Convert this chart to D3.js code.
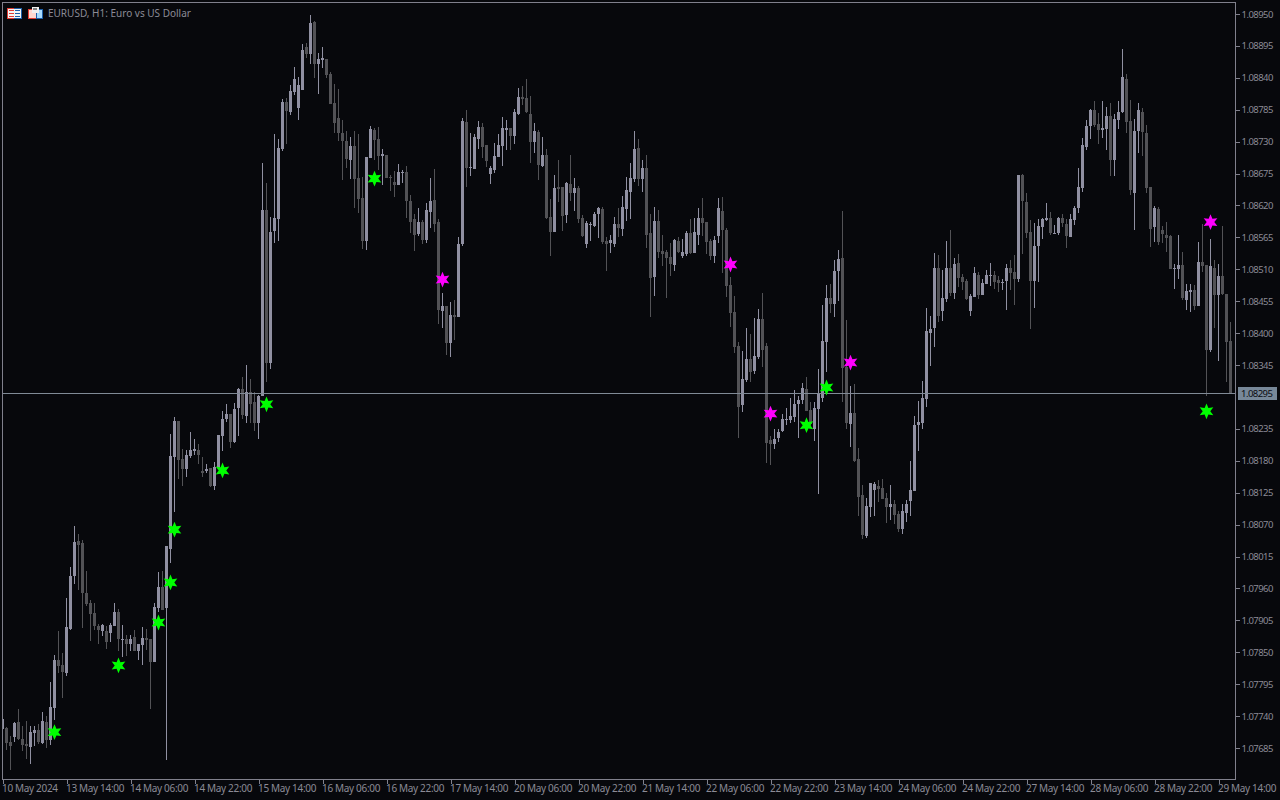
<!DOCTYPE html>
<html><head><meta charset="utf-8">
<style>html,body{margin:0;padding:0;background:#07080c;overflow:hidden}svg{display:block}text{font-family:"Noto Sans",sans-serif;font-size:10px;fill:#8b8b96}</style>
<script src="https://cdn.jsdelivr.net/npm/d3@7"></script></head><body>
<script>
const opens=[1.07718,1.07720,1.07695,1.07704,1.07730,1.07701,1.07692,1.07687,1.07711,1.07716,
1.07694,1.07730,1.07699,1.07754,1.07837,1.07828,1.07814,1.07890,1.07981,1.08042,
1.08038,1.07952,1.07935,1.07918,1.07895,1.07887,1.07887,1.07883,1.07895,1.07919,
1.07871,1.07873,1.07864,1.07876,1.07852,1.07863,1.07875,1.07873,1.07833,1.07926,
1.07962,1.07926,1.08028,1.08187,1.08249,1.08183,1.08166,1.08188,1.08197,1.08199,
1.08162,1.08162,1.08168,1.08137,1.08168,1.08223,1.08252,1.08261,1.08212,1.08271,
1.08304,1.08257,1.08299,1.08281,1.08245,1.08292,1.08612,1.08349,1.08576,1.08597,
1.08717,1.08798,1.08781,1.08816,1.08788,1.08819,1.08893,1.08881,1.08936,1.08864,
1.08871,1.08872,1.08847,1.08797,1.08771,1.08745,1.08731,1.08698,1.08723,1.08667,
1.08633,1.08559,1.08702,1.08750,1.08735,1.08705,1.08707,1.08669,1.08660,1.08655,
1.08676,1.08678,1.08628,1.08597,1.08571,1.08592,1.08561,1.08609,1.08629,1.08592,
1.08438,1.08447,1.08383,1.08431,1.08428,1.08554,1.08764,1.08685,1.08683,1.08735,
1.08755,1.08724,1.08674,1.08681,1.08704,1.08723,1.08750,1.08754,1.08740,1.08778,
1.08807,1.08805,1.08778,1.08729,1.08747,1.08688,1.08707,1.08600,1.08574,1.08652,
1.08652,1.08604,1.08657,1.08642,1.08650,1.08598,1.08554,1.08586,1.08585,1.08605,
1.08614,1.08559,1.08555,1.08554,1.08588,1.08579,1.08614,1.08643,1.08666,1.08719,
1.08666,1.08685,1.08573,1.08497,1.08593,1.08542,1.08540,1.08531,1.08517,1.08559,
1.08533,1.08536,1.08573,1.08538,1.08569,1.08598,1.08592,1.08559,1.08533,1.08567,
1.08610,1.08578,1.08483,1.08436,1.08378,1.08276,1.08319,1.08355,1.08335,1.08359,
1.08424,1.08378,1.08216,1.08209,1.08219,1.08231,1.08250,1.08250,1.08255,1.08278,
1.08285,1.08304,1.08268,1.08235,1.08269,1.08288,1.08385,1.08461,1.08450,1.08507,
1.08529,1.08342,1.08243,1.08262,1.08183,1.08121,1.08050,1.08100,1.08130,1.08137,
1.08133,1.08116,1.08100,1.08106,1.08088,1.08062,1.08090,1.08111,1.08128,1.08242,
1.08245,1.08286,1.08400,1.08409,1.08512,1.08438,1.08459,1.08512,1.08469,1.08521,
1.08497,1.08490,1.08438,1.08462,1.08500,1.08466,1.08485,1.08498,1.08500,1.08492,
1.08486,1.08490,1.08512,1.08505,1.08493,1.08673,1.08626,1.08574,1.08490,1.08550,
1.08583,1.08595,1.08598,1.08571,1.08573,1.08598,1.08588,1.08566,1.08595,1.08616,
1.08650,1.08721,1.08757,1.08785,1.08760,1.08750,1.08752,1.08774,1.08698,1.08767,
1.08781,1.08838,1.08766,1.08642,1.08748,1.08781,1.08745,1.08652,1.08583,1.08614,
1.08578,1.08569,1.08567,1.08510,1.08510,1.08517,1.08457,1.08471,1.08474,1.08447,
1.08523,1.08517,1.08371,1.08512,1.08466,1.08498,1.08467,1.08386];
const highs=[1.07737,1.07722,1.07706,1.07730,1.07752,1.07723,1.07732,1.07723,1.07723,1.07726,
1.07747,1.07740,1.07799,1.07845,1.07887,1.07849,1.07944,1.07997,1.08068,1.08054,
1.08043,1.07990,1.07940,1.07935,1.07899,1.07899,1.07895,1.07900,1.07935,1.07925,
1.07897,1.07880,1.07880,1.07888,1.07864,1.07894,1.07890,1.07873,1.07935,1.07988,
1.07990,1.08033,1.08226,1.08255,1.08249,1.08200,1.08199,1.08230,1.08218,1.08209,
1.08187,1.08174,1.08168,1.08178,1.08224,1.08266,1.08278,1.08261,1.08280,1.08305,
1.08324,1.08345,1.08321,1.08299,1.08293,1.08693,1.08659,1.08600,1.08743,1.08735,
1.08804,1.08805,1.08828,1.08859,1.08841,1.08898,1.08900,1.08948,1.08938,1.08883,
1.08893,1.08872,1.08850,1.08829,1.08821,1.08767,1.08748,1.08738,1.08748,1.08743,
1.08669,1.08704,1.08757,1.08754,1.08755,1.08717,1.08707,1.08673,1.08679,1.08692,
1.08681,1.08688,1.08638,1.08605,1.08616,1.08595,1.08624,1.08667,1.08683,1.08597,
1.08469,1.08447,1.08454,1.08457,1.08566,1.08771,1.08785,1.08745,1.08743,1.08766,
1.08762,1.08724,1.08688,1.08728,1.08743,1.08773,1.08767,1.08754,1.08786,1.08822,
1.08826,1.08838,1.08809,1.08762,1.08750,1.08738,1.08717,1.08631,1.08673,1.08698,
1.08652,1.08660,1.08707,1.08667,1.08654,1.08604,1.08593,1.08592,1.08609,1.08617,
1.08617,1.08566,1.08569,1.08600,1.08616,1.08636,1.08669,1.08693,1.08748,1.08735,
1.08698,1.08707,1.08605,1.08617,1.08612,1.08569,1.08543,1.08555,1.08562,1.08566,
1.08562,1.08576,1.08597,1.08598,1.08616,1.08633,1.08592,1.08562,1.08567,1.08633,
1.08635,1.08581,1.08497,1.08464,1.08385,1.08369,1.08409,1.08399,1.08426,1.08442,
1.08469,1.08383,1.08223,1.08235,1.08235,1.08261,1.08271,1.08288,1.08302,1.08292,
1.08314,1.08324,1.08281,1.08281,1.08338,1.08449,1.08483,1.08485,1.08526,1.08543,
1.08611,1.08423,1.08309,1.08312,1.08202,1.08138,1.08116,1.08142,1.08143,1.08147,
1.08149,1.08125,1.08138,1.08112,1.08093,1.08106,1.08112,1.08180,1.08257,1.08283,
1.08317,1.08443,1.08430,1.08538,1.08535,1.08509,1.08559,1.08578,1.08529,1.08536,
1.08502,1.08493,1.08467,1.08514,1.08505,1.08493,1.08509,1.08521,1.08507,1.08498,
1.08493,1.08519,1.08526,1.08535,1.08673,1.08674,1.08641,1.08595,1.08590,1.08597,
1.08598,1.08624,1.08609,1.08586,1.08600,1.08605,1.08597,1.08605,1.08619,1.08685,
1.08736,1.08767,1.08786,1.08800,1.08779,1.08800,1.08790,1.08797,1.08778,1.08800,
1.08890,1.08847,1.08802,1.08769,1.08797,1.08788,1.08759,1.08652,1.08619,1.08617,
1.08585,1.08592,1.08569,1.08519,1.08569,1.08540,1.08485,1.08485,1.08483,1.08557,
1.08588,1.08517,1.08562,1.08526,1.08519,1.08585,1.08467,1.08419];
const lows=[1.07687,1.07682,1.07647,1.07696,1.07699,1.07680,1.07666,1.07657,1.07689,1.07692,
1.07692,1.07685,1.07690,1.07733,1.07814,1.07771,1.07809,1.07888,1.07968,1.07957,
1.07892,1.07930,1.07869,1.07888,1.07864,1.07878,1.07856,1.07868,1.07895,1.07852,
1.07842,1.07844,1.07852,1.07852,1.07837,1.07828,1.07854,1.07752,1.07833,1.07919,
1.07923,1.07664,1.08004,1.08092,1.08149,1.08137,1.08152,1.08185,1.08190,1.08174,
1.08152,1.08159,1.08135,1.08130,1.08168,1.08197,1.08247,1.08202,1.08211,1.08223,
1.08252,1.08245,1.08245,1.08231,1.08218,1.08292,1.08316,1.08338,1.08555,1.08559,
1.08714,1.08726,1.08776,1.08810,1.08767,1.08819,1.08874,1.08864,1.08840,1.08812,
1.08857,1.08840,1.08795,1.08745,1.08731,1.08664,1.08685,1.08666,1.08616,1.08607,
1.08545,1.08543,1.08702,1.08698,1.08681,1.08655,1.08667,1.08645,1.08635,1.08655,
1.08659,1.08598,1.08573,1.08542,1.08567,1.08554,1.08555,1.08581,1.08574,1.08416,
1.08409,1.08362,1.08359,1.08388,1.08428,1.08550,1.08652,1.08671,1.08683,1.08717,
1.08702,1.08686,1.08657,1.08676,1.08704,1.08688,1.08716,1.08716,1.08726,1.08776,
1.08793,1.08779,1.08693,1.08710,1.08664,1.08686,1.08597,1.08533,1.08574,1.08626,
1.08576,1.08590,1.08628,1.08610,1.08590,1.08566,1.08547,1.08559,1.08583,1.08564,
1.08554,1.08507,1.08538,1.08548,1.08566,1.08567,1.08593,1.08597,1.08660,1.08654,
1.08643,1.08547,1.08428,1.08464,1.08529,1.08516,1.08461,1.08498,1.08507,1.08538,
1.08529,1.08533,1.08536,1.08538,1.08552,1.08567,1.08536,1.08526,1.08521,1.08555,
1.08504,1.08462,1.08411,1.08366,1.08219,1.08264,1.08316,1.08316,1.08330,1.08355,
1.08342,1.08176,1.08173,1.08200,1.08212,1.08230,1.08242,1.08245,1.08247,1.08219,
1.08278,1.08266,1.08237,1.08214,1.08123,1.08281,1.08333,1.08435,1.08428,1.08455,
1.08281,1.08235,1.08204,1.08178,1.08085,1.08045,1.08047,1.08083,1.08085,1.08109,
1.08114,1.08073,1.08078,1.08071,1.08057,1.08054,1.08074,1.08085,1.08128,1.08197,
1.08235,1.08273,1.08343,1.08376,1.08419,1.08421,1.08454,1.08464,1.08459,1.08480,
1.08474,1.08457,1.08430,1.08462,1.08459,1.08466,1.08485,1.08481,1.08476,1.08471,
1.08474,1.08440,1.08474,1.08448,1.08488,1.08536,1.08564,1.08407,1.08443,1.08488,
1.08562,1.08593,1.08569,1.08571,1.08569,1.08583,1.08547,1.08566,1.08586,1.08607,
1.08643,1.08716,1.08735,1.08755,1.08726,1.08736,1.08716,1.08671,1.08671,1.08752,
1.08779,1.08745,1.08638,1.08578,1.08710,1.08705,1.08642,1.08548,1.08557,1.08552,
1.08555,1.08540,1.08510,1.08476,1.08493,1.08457,1.08440,1.08436,1.08440,1.08447,
1.08505,1.08292,1.08367,1.08409,1.08352,1.08466,1.08316,1.08295];
const closes=[1.07735,1.07694,1.07688,1.07728,1.07701,1.07690,1.07689,1.07713,1.07716,1.07695,
1.07732,1.07699,1.07756,1.07837,1.07826,1.07816,1.07894,1.07981,1.08040,1.08035,
1.07952,1.07933,1.07916,1.07895,1.07888,1.07897,1.07868,1.07897,1.07919,1.07873,
1.07873,1.07864,1.07873,1.07852,1.07864,1.07875,1.07871,1.07833,1.07928,1.07962,
1.07923,1.08033,1.08188,1.08249,1.08181,1.08166,1.08190,1.08199,1.08200,1.08190,
1.08159,1.08166,1.08137,1.08169,1.08224,1.08252,1.08261,1.08212,1.08269,1.08304,
1.08259,1.08299,1.08278,1.08245,1.08292,1.08612,1.08349,1.08574,1.08598,1.08719,
1.08798,1.08783,1.08817,1.08838,1.08828,1.08888,1.08881,1.08934,1.08864,1.08872,
1.08874,1.08845,1.08795,1.08762,1.08745,1.08731,1.08700,1.08723,1.08666,1.08631,
1.08559,1.08704,1.08752,1.08733,1.08705,1.08709,1.08667,1.08667,1.08655,1.08678,
1.08678,1.08628,1.08592,1.08569,1.08592,1.08561,1.08612,1.08628,1.08588,1.08440,
1.08447,1.08383,1.08431,1.08428,1.08554,1.08766,1.08685,1.08686,1.08738,1.08755,
1.08721,1.08697,1.08685,1.08705,1.08724,1.08754,1.08754,1.08740,1.08781,1.08807,
1.08804,1.08781,1.08729,1.08748,1.08690,1.08707,1.08598,1.08574,1.08650,1.08648,
1.08602,1.08659,1.08642,1.08650,1.08597,1.08567,1.08590,1.08588,1.08605,1.08616,
1.08557,1.08554,1.08561,1.08588,1.08581,1.08617,1.08647,1.08667,1.08717,1.08666,
1.08685,1.08569,1.08495,1.08593,1.08540,1.08536,1.08529,1.08519,1.08561,1.08540,
1.08540,1.08573,1.08538,1.08574,1.08598,1.08590,1.08557,1.08533,1.08561,1.08616,
1.08578,1.08481,1.08435,1.08376,1.08273,1.08321,1.08355,1.08333,1.08361,1.08424,
1.08371,1.08211,1.08209,1.08218,1.08230,1.08252,1.08252,1.08257,1.08278,1.08285,
1.08305,1.08266,1.08243,1.08271,1.08295,1.08386,1.08461,1.08450,1.08507,1.08528,
1.08340,1.08245,1.08262,1.08180,1.08118,1.08052,1.08102,1.08142,1.08140,1.08131,
1.08114,1.08100,1.08106,1.08087,1.08062,1.08093,1.08106,1.08130,1.08242,1.08247,
1.08288,1.08404,1.08407,1.08512,1.08430,1.08461,1.08512,1.08469,1.08519,1.08495,
1.08488,1.08459,1.08464,1.08504,1.08466,1.08486,1.08500,1.08500,1.08488,1.08486,
1.08488,1.08512,1.08504,1.08493,1.08673,1.08628,1.08573,1.08490,1.08550,1.08585,
1.08597,1.08598,1.08573,1.08573,1.08598,1.08590,1.08567,1.08597,1.08616,1.08652,
1.08724,1.08757,1.08785,1.08759,1.08750,1.08754,1.08774,1.08698,1.08769,1.08781,
1.08841,1.08764,1.08647,1.08748,1.08785,1.08747,1.08650,1.08579,1.08616,1.08557,
1.08571,1.08564,1.08510,1.08512,1.08517,1.08461,1.08473,1.08474,1.08447,1.08523,
1.08516,1.08371,1.08516,1.08466,1.08498,1.08467,1.08385,1.08295];
const greenBars=[13,29,39,42,43,55,66,93,201,206,301];
const greenPrices=[1.07713,1.07828,1.07902,1.07971,1.08062,1.08164,1.08278,1.08667,1.08242,1.08307,1.08266];
const magentaBars=[110,182,192,212,302];
const magentaPrices=[1.08493,1.08519,1.08262,1.08350,1.08592];
const priceTicks=[1.08950,1.08895,1.08840,1.08785,1.08730,1.08675,1.08620,1.08565,1.08510,1.08455,1.08400,1.08345,1.08235,1.08180,1.08125,1.08070,1.08015,1.07960,1.07905,1.07850,1.07795,1.07740,1.07685];
const timeLabels=["10 May 2024","13 May 14:00","14 May 06:00","14 May 22:00","15 May 14:00","16 May 06:00","16 May 22:00","17 May 14:00","20 May 06:00","20 May 22:00","21 May 14:00","22 May 06:00","22 May 22:00","23 May 14:00","24 May 06:00","24 May 22:00","27 May 14:00","28 May 06:00","28 May 22:00","29 May 14:00"];
const timeTickBars=timeLabels.map((d,i)=>i*16);
const lastPrice=1.08295;
const title="EURUSD, H1:  Euro vs US Dollar";

const LIGHT="#9090a2",DARK="#525256",FRAME="#80808c",LINE="#808a96";
const L=2,T=2,R=1235,B=779;
const svg=d3.select("body").append("svg").attr("width",1280).attr("height",800);
svg.append("rect").attr("width",1280).attr("height",800).attr("fill","#07080c");
const x=d3.scaleLinear().domain([0,307]).range([2,1230]);
const y=d3.scaleLinear().domain([1.07685,1.0895]).range([748,14]);
const py=v=>Math.round(y(v));
const defs=svg.append("defs");
defs.append("clipPath").attr("id","plot").append("rect").attr("x",L).attr("y",T).attr("width",R-L).attr("height",B-T);
const plot=svg.append("g").attr("clip-path","url(#plot)").attr("shape-rendering","crispEdges");
const idx=d3.range(opens.length);
const col=i=>closes[i]>=opens[i]?LIGHT:DARK;
plot.selectAll("rect.wick").data(idx).join("rect").attr("class","wick")
 .attr("x",i=>x(i)).attr("width",1)
 .attr("y",i=>py(highs[i])).attr("height",i=>Math.max(1,py(lows[i])-py(highs[i])))
 .attr("fill",col);
plot.selectAll("rect.body").data(idx).join("rect").attr("class","body")
 .attr("x",i=>x(i)-1).attr("width",3)
 .attr("y",i=>py(Math.max(opens[i],closes[i])))
 .attr("height",i=>Math.max(1,Math.abs(py(opens[i])-py(closes[i]))))
 .attr("fill",col);
plot.append("rect").attr("x",L).attr("width",R-L).attr("y",py(lastPrice)-1).attr("height",1).attr("fill",LINE);

const star=d3.lineRadial().curve(d3.curveLinearClosed)
 .angle(k=>k*Math.PI/6).radius(k=>k%2?3.8:7.9);
const starPath=star(d3.range(12));
function stars(bars,prices,fill){
 svg.append("g").selectAll("path").data(bars).join("path")
  .attr("d",starPath)
  .attr("transform",(b,i)=>`translate(${x(b)+0.5},${y(prices[i])+0.4})`)
  .attr("fill",fill);
}
stars(greenBars,greenPrices,"#00ff00");
stars(magentaBars,magentaPrices,"#ff00ff");

// frame
const fr=svg.append("g").attr("shape-rendering","crispEdges");
fr.append("rect").attr("x",L+.5).attr("y",T+.5).attr("width",R-L).attr("height",B-T).attr("fill","none").attr("stroke",FRAME);

// axes
const yAxis=d3.axisRight(y).tickValues(priceTicks).tickSize(4).tickPadding(2).tickFormat(d3.format(".5f"));
const ga=svg.append("g").attr("transform",`translate(${R+.5},0)`).call(yAxis);
ga.select(".domain").remove();
ga.selectAll("line").attr("stroke",FRAME).attr("shape-rendering","crispEdges");
ga.selectAll("text").attr("x",6).style("font-size","9.5px").style("letter-spacing","-0.55px");
const xAxis=d3.axisBottom(x).tickValues(timeTickBars).tickSize(4).tickFormat((d,i)=>timeLabels[i]);
const gb=svg.append("g").attr("transform",`translate(0.5,${B+.5})`).call(xAxis);
gb.select(".domain").remove();
gb.selectAll("line").attr("stroke",FRAME).attr("shape-rendering","crispEdges");
gb.selectAll("text").attr("text-anchor","start").attr("x",-1).attr("y",3.5).attr("dy","0.9em").style("letter-spacing","-0.33px");

// current price flag
const flag=svg.append("g");
flag.append("rect").attr("x",1238).attr("y",py(lastPrice)-7).attr("width",39).attr("height",13).attr("fill","#778899").attr("shape-rendering","crispEdges");
flag.append("text").attr("x",1241).attr("y",py(lastPrice)).attr("dy","0.32em").style("fill","#0b0c10").style("font-size","9.5px").style("letter-spacing","-0.55px").text(d3.format(".5f")(lastPrice));

// header
svg.append("text").attr("x",48).attr("y",17).text(title);
const ic=svg.append("g").attr("shape-rendering","crispEdges");
const r=(x0,y0,w,h,f)=>ic.append("rect").attr("x",x0).attr("y",y0).attr("width",w).attr("height",h).attr("fill",f);
// table icon
r(7,8,7,11,"#e03c32");r(14,8,8,11,"#1c5fa8");r(8,9,13,9,"#f4f4f4");
[10,13,16].forEach(v=>{r(9,v,5,1,"#e03c32");r(15,v,5,1,"#1c5fa8");});
// floppy icon
r(28,9,8,10,"#e03c32");r(36,9,7,10,"#1c5fa8");r(29,10,7,8,"#ffd8d0");r(37,10,5,8,"#a8dcff");r(32,7,7,6,"#f0f0f0");r(33,8,4,2,"#808080");
</script></body></html>
